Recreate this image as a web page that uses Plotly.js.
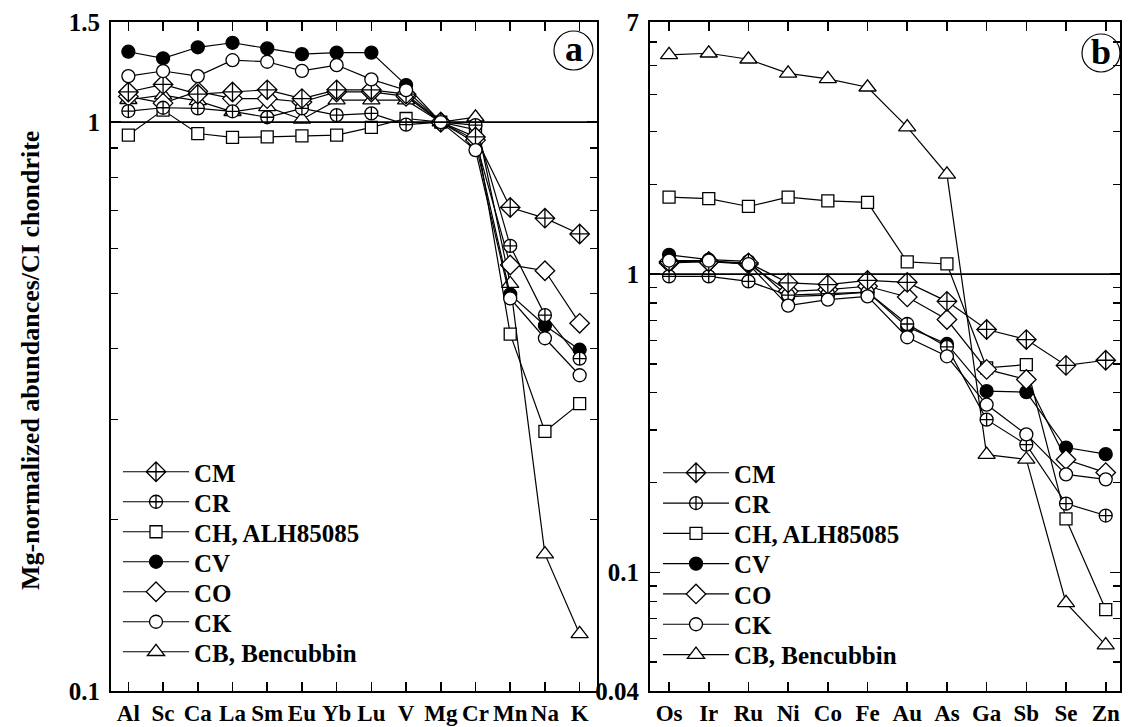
<!DOCTYPE html>
<html>
<head>
<meta charset="utf-8">
<script src="https://cdn.plot.ly/plotly-3.0.1.min.js"></script>
<style>
  html, body { margin: 0; padding: 0; background: #fff; }
  #chart { width: 1133px; height: 727px; }
</style>
</head>
<body>
<div id="chart"></div>
<script>
// Element order along each panel
const lithophiles = ['Al', 'Sc', 'Ca', 'La', 'Sm', 'Eu', 'Yb', 'Lu', 'V', 'Mg', 'Cr', 'Mn', 'Na', 'K'];
const siderophiles = ['Os', 'Ir', 'Ru', 'Ni', 'Co', 'Fe', 'Au', 'As', 'Ga', 'Sb', 'Se', 'Zn'];

// Chondrite groups
const groupNames = ['CM', 'CR', 'CH, ALH85085', 'CV', 'CO', 'CK', 'CB, Bencubbin'];

// (a) lithophile abundances, Mg- and CI-normalized
const cmLitho = [1.13, 1.165, 1.12, 1.13, 1.14, 1.10, 1.14, 1.14, 1.12, 1.00, 0.942, 0.708, 0.678, 0.636];
const crLitho = [1.046, 1.06, 1.057, 1.045, 1.02, 1.057, 1.029, 1.036, 0.99, 1.00, 0.988, 0.606, 0.458, 0.384];
const chLitho = [0.949, 1.05, 0.955, 0.94, 0.942, 0.946, 0.949, 0.979, 1.015, 1.00, 0.97, 0.424, 0.286, 0.32];
const cvLitho = [1.33, 1.295, 1.354, 1.379, 1.348, 1.317, 1.325, 1.325, 1.162, 1.00, 0.92, 0.498, 0.439, 0.398];
const coLitho = [1.11, 1.08, 1.133, 1.10, 1.10, 1.085, 1.13, 1.13, 1.11, 1.00, 0.93, 0.561, 0.548, 0.443];
const ckLitho = [1.205, 1.23, 1.205, 1.285, 1.277, 1.231, 1.26, 1.189, 1.138, 1.00, 0.893, 0.49, 0.417, 0.359];
const cbLitho = [1.095, 1.116, 1.09, 1.043, 1.064, 1.011, 1.093, 1.093, 1.093, 1.00, 1.02, 0.52, 0.174, 0.126];

// (b) siderophile and volatile abundances, Mg- and CI-normalized
const cmSidero = [1.10, 1.10, 1.09, 0.934, 0.922, 0.952, 0.938, 0.81, 0.652, 0.603, 0.494, 0.514];
const crSidero = [0.982, 0.982, 0.945, 0.85, 0.86, 0.87, 0.68, 0.57, 0.325, 0.268, 0.17, 0.155];
const chSidero = [1.81, 1.79, 1.685, 1.81, 1.76, 1.738, 1.098, 1.081, 0.485, 0.497, 0.151, 0.075];
const cvSidero = [1.16, 1.117, 1.103, 0.84, 0.85, 0.87, 0.665, 0.583, 0.405, 0.402, 0.262, 0.249];
const coSidero = [1.09, 1.10, 1.08, 0.875, 0.887, 0.91, 0.838, 0.704, 0.479, 0.443, 0.239, 0.216];
const ckSidero = [1.11, 1.11, 1.08, 0.784, 0.821, 0.842, 0.614, 0.53, 0.365, 0.29, 0.213, 0.205];
const cbSidero = [5.43, 5.50, 5.25, 4.71, 4.51, 4.23, 3.11, 2.16, 0.248, 0.239, 0.079, 0.057];

// Axis tick values
const yTicksA = [0.1, 1, 1.5];
const yTickTextA = ['0.1', '1', '1.5'];
const yMinorA = [0.2, 0.3, 0.4, 0.5, 0.6, 0.7, 0.8, 0.9];
const yTicksB = [0.04, 0.1, 1, 7];
const yTickTextB = ['0.04', '0.1', '1', '7'];
const yMinorB = [0.05, 0.06, 0.07, 0.08, 0.09, 0.2, 0.3, 0.4, 0.5, 0.6, 0.7, 0.8, 0.9, 2, 3, 4, 5, 6];

const serif = '"Liberation Serif", "Times New Roman", Times, serif';

// Marker style per group
const styles = [
  { symbol: 'diamond-cross', fill: 'white', size: 15 },
  { symbol: 'circle-cross', fill: 'white', size: 13 },
  { symbol: 'square', fill: 'white', size: 12 },
  { symbol: 'circle', fill: 'black', size: 13 },
  { symbol: 'diamond', fill: 'white', size: 15 },
  { symbol: 'circle', fill: 'white', size: 13 },
  { symbol: 'triangle-up', fill: 'white', size: 15 }
];

const lithoSeries = [cmLitho, crLitho, chLitho, cvLitho, coLitho, ckLitho, cbLitho];
const sideroSeries = [cmSidero, crSidero, chSidero, cvSidero, coSidero, ckSidero, cbSidero];

// Drawing order (bottom to top)
const drawOrder = [6, 2, 3, 4, 1, 0, 5];

const W = 1133, H = 727;
const plotTop = 22, plotBottom = 691;
const ax = { l: 111, r: 597 }, bx = { l: 650, r: 1120 };

// Key rows: one single-entry legend per group so rows sit at fixed pitch
const keyA = { x: 118, y0: 472, dy: 30 };
const keyB = { x: 658, y0: 473, dy: 30.3 };

const legendFont = { family: serif, size: 25, color: 'black', weight: 'bold' };
const legends = {};
function legendId(k) { return k === 0 ? 'legend' : 'legend' + (k + 1); }

const traces = [];
function addPanel(xs, series, xa, ya, key, offset) {
  drawOrder.forEach(function (g) {
    const st = styles[g];
    const id = legendId(offset + g);
    legends[id] = {
      x: key.x / W, y: 1 - (key.y0 + g * key.dy) / H,
      xanchor: 'left', yanchor: 'middle',
      bgcolor: 'rgba(0,0,0,0)', borderwidth: 0,
      font: legendFont, itemwidth: 66, tracegroupgap: 0
    };
    traces.push({
      type: 'scatter',
      mode: 'lines+markers',
      name: groupNames[g],
      x: xs,
      y: series[g],
      xaxis: xa,
      yaxis: ya,
      legend: id,
      line: { color: 'black', width: 1.2 },
      marker: {
        symbol: st.symbol,
        size: st.size,
        color: st.fill,
        line: { color: 'black', width: 1.3 }
      },
      cliponaxis: false,
      hoverinfo: 'x+y+name'
    });
  });
}
addPanel(lithophiles, lithoSeries, 'x', 'y', keyA, 0);
addPanel(siderophiles, sideroSeries, 'x2', 'y2', keyB, 7);

const yRangeA = [Math.log10(0.1), Math.log10(1.5)];
const yRangeB = [Math.log10(0.04), Math.log10(7)];

const xTickFont = { family: serif, size: 23, color: 'black', weight: 'bold' };
const yTickFont = { family: serif, size: 25, color: 'black', weight: 'bold' };

function xAxis(domain, range, anchor) {
  return {
    domain: domain,
    anchor: anchor,
    type: 'category',
    range: range,
    showgrid: false,
    zeroline: false,
    showline: true,
    linecolor: 'black',
    linewidth: 2,
    mirror: 'ticks',
    ticks: 'inside',
    ticklen: 9,
    tickwidth: 1.6,
    tickcolor: 'black',
    tickfont: xTickFont,
    ticklabelstandoff: 0,
    fixedrange: true
  };
}
function yAxis(range, tv, tt, minorVals, anchor) {
  return {
    domain: [1 - plotBottom / H, 1 - plotTop / H],
    anchor: anchor,
    type: 'log',
    range: range,
    showgrid: false,
    zeroline: false,
    showline: true,
    linecolor: 'black',
    linewidth: 2,
    mirror: 'ticks',
    ticks: 'inside',
    ticklen: 10,
    tickwidth: 1.6,
    tickcolor: 'black',
    tickmode: 'array',
    tickvals: tv,
    ticktext: tt,
    tickfont: yTickFont,
    ticklabelstandoff: 4,
    minor: {
      tickmode: 'array',
      tickvals: minorVals,
      ticks: 'inside',
      ticklen: 7,
      tickwidth: 1.4,
      tickcolor: 'black',
      showgrid: false
    },
    fixedrange: true
  };
}

function unitFrac(range) { return (0 - range[0]) / (range[1] - range[0]); }

const layout = Object.assign({
  width: W,
  height: H,
  margin: { l: 0, r: 0, t: 0, b: 0 },
  paper_bgcolor: 'white',
  plot_bgcolor: 'white',
  showlegend: true,
  xaxis: xAxis([ax.l / W, ax.r / W], [-0.5, lithophiles.length - 0.5], 'y'),
  yaxis: yAxis(yRangeA, yTicksA, yTickTextA, yMinorA, 'x'),
  xaxis2: xAxis([bx.l / W, bx.r / W], [-0.48, siderophiles.length - 0.64], 'y2'),
  yaxis2: yAxis(yRangeB, yTicksB, yTickTextB, yMinorB, 'x2'),
  shapes: [
    // reference line at unity
    { type: 'line', xref: 'x domain', yref: 'y domain', x0: 0, x1: 1,
      y0: unitFrac(yRangeA), y1: unitFrac(yRangeA), line: { color: 'black', width: 1.8 } },
    { type: 'line', xref: 'x2 domain', yref: 'y2 domain', x0: 0, x1: 1,
      y0: unitFrac(yRangeB), y1: unitFrac(yRangeB), line: { color: 'black', width: 1.8 } },
    // circled panel letters
    { type: 'circle', xref: 'paper', yref: 'paper',
      x0: 554 / W, x1: 593 / W, y0: 1 - 70 / H, y1: 1 - 31 / H,
      line: { color: 'black', width: 1.2 } },
    { type: 'circle', xref: 'paper', yref: 'paper',
      x0: 1082 / W, x1: 1120 / W, y0: 1 - 72 / H, y1: 1 - 34 / H,
      line: { color: 'black', width: 1.2 } }
  ],
  annotations: [
    { text: 'a', xref: 'paper', yref: 'paper', x: 573.5 / W, y: 1 - 49 / H,
      xanchor: 'center', yanchor: 'middle', showarrow: false,
      font: { family: serif, size: 36, color: 'black', weight: 'bold' } },
    { text: 'b', xref: 'paper', yref: 'paper', x: 1101 / W, y: 1 - 52 / H,
      xanchor: 'center', yanchor: 'middle', showarrow: false,
      font: { family: serif, size: 36, color: 'black', weight: 'bold' } },
    { text: 'Mg-normalized abundances/CI chondrite', xref: 'paper', yref: 'paper',
      x: 30 / W, y: 1 - 361 / H, xanchor: 'center', yanchor: 'middle',
      textangle: -90, showarrow: false,
      font: { family: serif, size: 26, color: 'black', weight: 'bold' } }
  ]
}, legends);

Plotly.newPlot('chart', traces, layout, { displayModeBar: false, staticPlot: true });
</script>
</body>
</html>
